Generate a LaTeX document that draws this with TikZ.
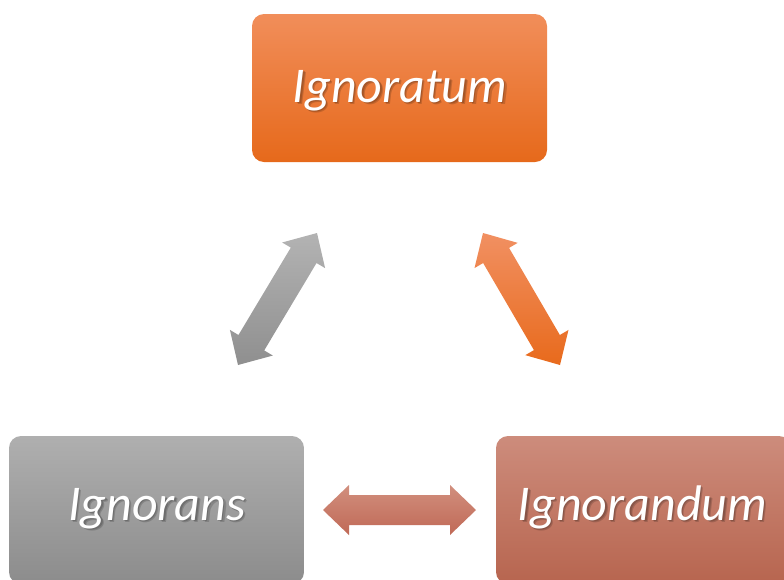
\documentclass[tikz,border=0pt]{standalone}
\usepackage{fontspec}
\setmainfont{Carlito}
\usetikzlibrary{calc}

% box fills
\definecolor{orTop}{HTML}{F18E5A}
\definecolor{orMid}{HTML}{F47B2B}
\definecolor{orBot}{HTML}{E6691B}
\definecolor{grTop}{HTML}{AFAFAF}
\definecolor{grBot}{HTML}{8C8C8C}
\definecolor{rdTop}{HTML}{CD8C7C}
\definecolor{rdBot}{HTML}{B7654F}
% arrow fills
\definecolor{gaTop}{HTML}{B3B3B3}
\definecolor{gaBot}{HTML}{8F8F8F}
\definecolor{oaTop}{HTML}{F19062}
\definecolor{oaBot}{HTML}{E86A1C}
\definecolor{haTop}{HTML}{D18F7E}
\definecolor{haBot}{HTML}{C06956}

% block arrow with heads at both ends, between two named coordinates
\newcommand\dblarrow[3]{%
  \coordinate (#1-h) at ($(#1)!26pt!(#2)$);
  \coordinate (#2-h) at ($(#2)!26pt!(#1)$);
  \path[#3] (#1)
    -- ($(#1-h)!25pt!90:(#2)$) -- ($(#1-h)!15pt!90:(#2)$)
    -- ($(#2-h)!15pt!-90:(#1)$) -- ($(#2-h)!25pt!-90:(#1)$)
    -- (#2)
    -- ($(#2-h)!25pt!90:(#1)$) -- ($(#2-h)!15pt!90:(#1)$)
    -- ($(#1-h)!15pt!-90:(#2)$) -- ($(#1-h)!25pt!-90:(#2)$) -- cycle;
}

\tikzset{
  box/.style={rectangle, rounded corners=12pt, minimum width=295pt,
    minimum height=148pt, inner sep=0pt},
  lbl/.style={anchor=base, inner sep=0pt, text=white,
    font=\fontsize{50}{60}\selectfont\itshape},
  lblshadow/.style={anchor=base, inner sep=0pt, text=black, opacity=0.16,
    font=\fontsize{50}{60}\selectfont\itshape},
}

\begin{document}
\begin{tikzpicture}[x=1pt, y=-1pt]
  \path[use as bounding box, clip] (0,0) rectangle (784,579);

  % boxes
  \node[box, top color=orTop, middle color=orMid, bottom color=orBot] (tm) at (399.5,88) {};
  \node[box, top color=grTop, bottom color=grBot] (lt) at (156.5,510) {};
  \node[box, top color=rdTop, bottom color=rdBot] (rt) at (643.5,510) {};

  % labels with soft drop shadow (two faint offset copies)
  \foreach \nm/\x/\y/\t in {tm/400/102/Ignoratum, lt/157/520/Ignorans, rt/642.5/520/Ignorandum}{
    \node[lblshadow] (\nm S1) at (\x+1.3,\y+1.6) {\t};
    \node[lblshadow] (\nm S2) at (\x+2.4,\y+2.8) {\t};
  }
  \node[lbl] (tmL) at (400,102) {Ignoratum};
  \node[lbl] (ltL) at (157,520) {Ignorans};
  \node[lbl] (rtL) at (642.5,520) {Ignorandum};

  % arrow end points
  \coordinate (g1) at (317,233);
  \coordinate (g2) at (238,365);
  \coordinate (o1) at (483,233);
  \coordinate (o2) at (560,365);
  \coordinate (h1) at (323,510);
  \coordinate (h2) at (476,510);

  \dblarrow{g1}{g2}{top color=gaTop, bottom color=gaBot}
  \dblarrow{o1}{o2}{top color=oaTop, bottom color=oaBot}
  \dblarrow{h1}{h2}{top color=haTop, bottom color=haBot}
\end{tikzpicture}
\end{document}
